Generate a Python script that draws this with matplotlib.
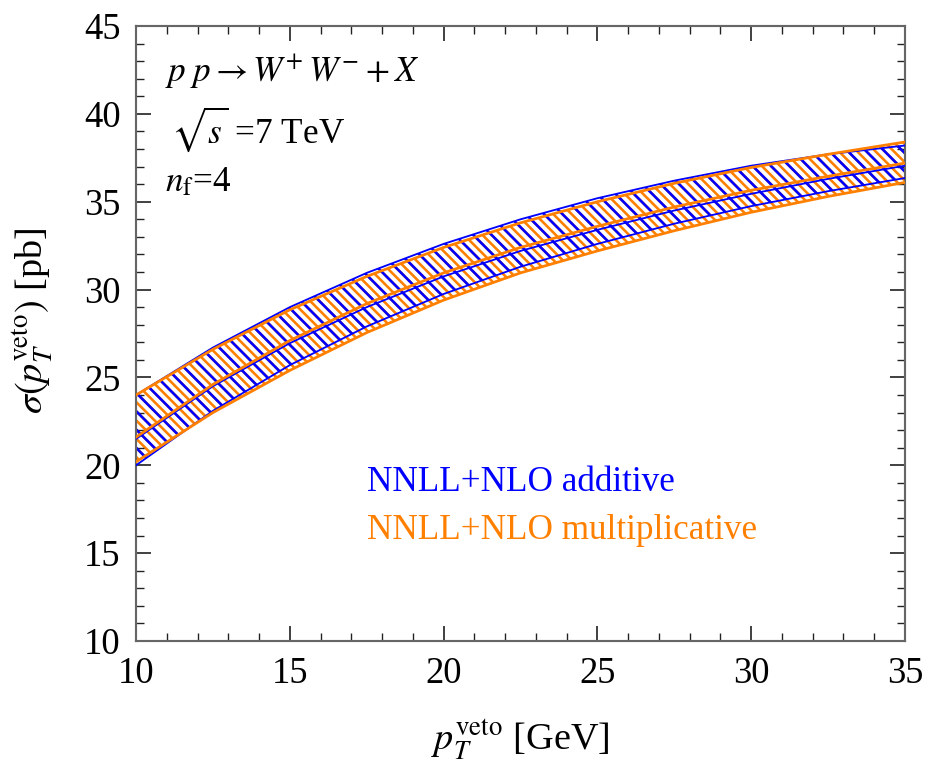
import numpy as np
import matplotlib
matplotlib.use("Agg")
import matplotlib.pyplot as plt
from matplotlib.ticker import MultipleLocator

plt.rcParams.update({
    "font.family": "serif", "font.serif": ["Liberation Serif", "DejaVu Serif"],
    "mathtext.fontset": "stix",
    "hatch.linewidth": 1.7,
})

BLUE = "#0000ff"
ORANGE = "#ff8000"

# pT veto values [GeV]
pt = [10, 12.5, 15, 17.5, 20, 22.5, 25, 27.5, 30, 32.5, 35]
# NNLL+NLO additive band [pb]
add_hi = [24.0, 26.7, 29.0, 30.95, 32.6, 34.0, 35.2, 36.2, 37.05, 37.7, 38.2]
add_mid = [21.5, 24.5, 26.95, 29.0, 30.75, 32.2, 33.4, 34.5, 35.45, 36.3, 37.05]
add_lo = [20.0, 23.1, 25.7, 27.9, 29.75, 31.3, 32.6, 33.75, 34.75, 35.6, 36.35]
# NNLL+NLO multiplicative band [pb]
mul_hi = [24.0, 26.6, 28.85, 30.75, 32.4, 33.8, 35.0, 36.05, 36.95, 37.7, 38.4]
mul_mid = [21.6, 24.6, 27.1, 29.2, 30.95, 32.4, 33.6, 34.7, 35.65, 36.45, 37.2]
mul_lo = [20.2, 23.0, 25.4, 27.55, 29.4, 30.95, 32.2, 33.35, 34.4, 35.3, 36.1]

DPI = 110
fig = plt.figure(figsize=(942 / DPI, 761 / DPI), dpi=DPI)
ax = fig.add_axes([0.1444, 0.1577, 0.8163, 0.8081])

# orange hatch underneath (double density), blue on top -> alternating stripes
ax.fill_between(pt, mul_lo, mul_hi, facecolor="none", edgecolor=ORANGE,
                hatch="\\\\\\\\", linewidth=0, zorder=1)
ax.fill_between(pt, add_lo, add_hi, facecolor="none", edgecolor=BLUE,
                hatch="\\\\", linewidth=0, zorder=2)
for y in (add_hi, add_mid, add_lo):
    ax.plot(pt, y, color=BLUE, lw=1.2, zorder=3)
for y in (mul_hi, mul_mid, mul_lo):
    ax.plot(pt, y, color=ORANGE, lw=1.8, zorder=4)

ax.set_xlim(10, 35)
ax.set_ylim(10, 45)
ax.xaxis.set_major_locator(MultipleLocator(5))
ax.xaxis.set_minor_locator(MultipleLocator(1))
ax.yaxis.set_major_locator(MultipleLocator(5))
ax.yaxis.set_minor_locator(MultipleLocator(1))
ax.tick_params(which="both", direction="in", top=True, right=True,
               labelsize=24, color="#222222")
ax.tick_params(which="major", length=10, width=1.1, pad=10)
ax.tick_params(which="minor", length=5, width=0.9)
for s in ax.spines.values():
    s.set_color("#666666")
    s.set_linewidth(1.4)

ax.set_xlabel(r"$p_T^{\mathrm{veto}}$ [GeV]", fontsize=25, va="center")
ax.xaxis.set_label_coords(0.5, -0.16)
ax.set_ylabel(r"$\sigma(p_T^{\mathrm{veto}})$ [pb]", fontsize=25, va="center")
ax.yaxis.set_label_coords(-0.135, 0.52)

ax.text(10.95, 42.4, r"$p\;p \rightarrow W^{+}\,W^{-} + X$", fontsize=23, va="center")
ax.text(11.15, 39.1, r"$\sqrt{s}$ =7 TeV", fontsize=23, va="center")
ax.text(10.95, 36.1, r"$n_{\mathrm{f}}$=4", fontsize=23, va="center")

ax.text(17.5, 19.0, "NNLL+NLO additive", color=BLUE, fontsize=23, va="center")
ax.text(17.5, 16.3, "NNLL+NLO multiplicative", color=ORANGE, fontsize=23, va="center")

fig.savefig("out.png", dpi=DPI)
